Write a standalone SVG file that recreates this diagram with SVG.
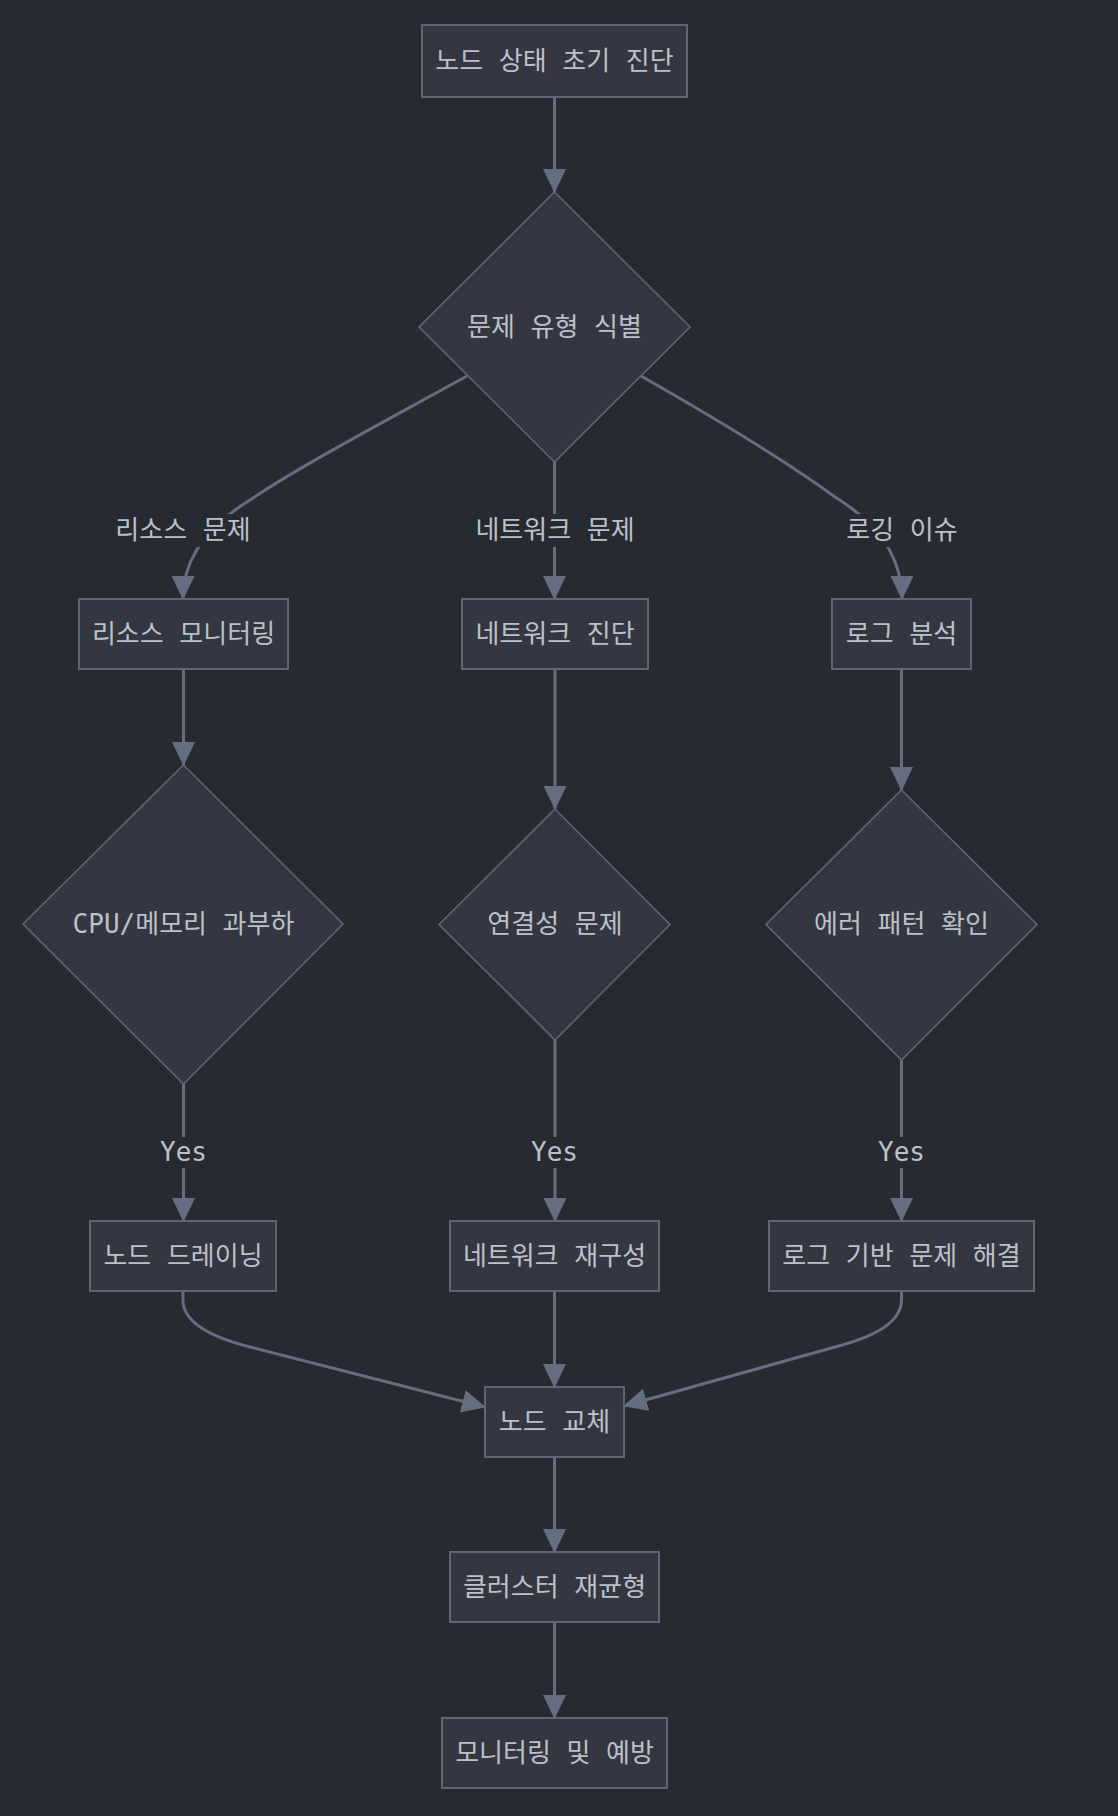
<svg xmlns="http://www.w3.org/2000/svg" width="1118" height="1816" viewBox="0 0 1118 1816">
<defs>
<style>
.bg{fill:#282a32}
.node rect,.node polygon{fill:#343741;stroke:#5e6577;stroke-width:2}
.node polygon{stroke-width:1.6}
.t{font-family:"DejaVu Sans Mono","Noto Sans CJK KR",monospace;font-size:26px;fill:#bcc0ca;text-anchor:middle;dominant-baseline:central}
.e{fill:none;stroke:#666d80;stroke-width:3;marker-end:url(#arr)}
.lb{fill:#282a32}
</style>
<marker id="arr" viewBox="0 0 24 24" markerWidth="24" markerHeight="24" markerUnits="userSpaceOnUse" refX="23" refY="12" orient="auto">
<path d="M0,0.5 L24,12 L0,23.5 z" fill="#666d80"/>
</marker>
</defs>
<rect class="bg" x="0" y="0" width="1118" height="1816"/>

<g id="connectors">
<path class="e" d="M554.5,97 L554.5,192"/>
<path class="e" d="M467,376 C380,424 300,466 250,500 Q183,541 183,599"/>
<path class="e" d="M554.5,462 L554.5,599"/>
<path class="e" d="M641,376 C720,421 790,464 835,497 Q902,538 902,599"/>
<path class="e" d="M183.5,669 L183.5,765"/>
<path class="e" d="M555,669 L555,809"/>
<path class="e" d="M901.5,669 L901.5,790"/>
<path class="e" d="M183.5,1084 L183.5,1221"/>
<path class="e" d="M555,1040 L555,1221"/>
<path class="e" d="M901.5,1060 L901.5,1221"/>
<path class="e" d="M183,1291 L183,1300 Q183,1330 250,1347 L485,1407"/>
<path class="e" d="M554.5,1291 L554.5,1387"/>
<path class="e" d="M901.5,1291 L901.5,1300 Q901.5,1330 835,1347 L624,1406"/>
<path class="e" d="M554.5,1457 L554.5,1552"/>
<path class="e" d="M554.5,1622 L554.5,1718"/>
<g id="edge-labels">
<rect class="lb" x="107" y="514" width="152" height="33"/>
<text class="t" x="183" y="530">리소스 문제</text>
<rect class="lb" x="466" y="514" width="178" height="33"/>
<text class="t" x="555" y="530">네트워크 문제</text>
<rect class="lb" x="839" y="514" width="126" height="33"/>
<text class="t" x="902" y="530">로깅 이슈</text>
<rect class="lb" x="157" y="1137" width="53" height="31"/>
<text class="t" x="183.5" y="1152">Yes</text>
<rect class="lb" x="528" y="1137" width="53" height="31"/>
<text class="t" x="554.5" y="1152">Yes</text>
<rect class="lb" x="875" y="1137" width="53" height="31"/>
<text class="t" x="901.5" y="1152">Yes</text>
</g>
</g>

<g id="n-start" class="node"><rect x="422" y="25" width="265" height="72"/><text class="t" x="554.5" y="61">노드 상태 초기 진단</text></g>
<g id="n-type" class="node"><polygon points="554.5,192 690,327 554.5,462 419,327"/><text class="t" x="554.5" y="327">문제 유형 식별</text></g>
<g id="n-resmon" class="node"><rect x="79" y="599" width="209" height="70"/><text class="t" x="183.5" y="634">리소스 모니터링</text></g>
<g id="n-netdiag" class="node"><rect x="462" y="599" width="186" height="70"/><text class="t" x="555" y="634">네트워크 진단</text></g>
<g id="n-loganal" class="node"><rect x="832" y="599" width="139" height="70"/><text class="t" x="901.5" y="634">로그 분석</text></g>
<g id="n-cpu" class="node"><polygon points="183.5,765 343,924 183.5,1084 23,924"/><text class="t" x="183.5" y="924">CPU/메모리 과부하</text></g>
<g id="n-conn" class="node"><polygon points="555,809 670,924.5 555,1040 439,924.5"/><text class="t" x="555" y="924">연결성 문제</text></g>
<g id="n-err" class="node"><polygon points="901.5,790 1037,924.5 901.5,1060 766,924.5"/><text class="t" x="901.5" y="924">에러 패턴 확인</text></g>
<g id="n-drain" class="node"><rect x="90" y="1221" width="186" height="70"/><text class="t" x="183" y="1256">노드 드레이닝</text></g>
<g id="n-netrec" class="node"><rect x="450" y="1221" width="209" height="70"/><text class="t" x="554.5" y="1256">네트워크 재구성</text></g>
<g id="n-logfix" class="node"><rect x="769" y="1221" width="265" height="70"/><text class="t" x="901.5" y="1256">로그 기반 문제 해결</text></g>
<g id="n-replace" class="node"><rect x="485" y="1387" width="139" height="70"/><text class="t" x="554.5" y="1422">노드 교체</text></g>
<g id="n-rebal" class="node"><rect x="450" y="1552" width="209" height="70"/><text class="t" x="554.5" y="1587">클러스터 재균형</text></g>
<g id="n-monitor" class="node"><rect x="442" y="1718" width="225" height="70"/><text class="t" x="554.5" y="1753">모니터링 및 예방</text></g>
</svg>
